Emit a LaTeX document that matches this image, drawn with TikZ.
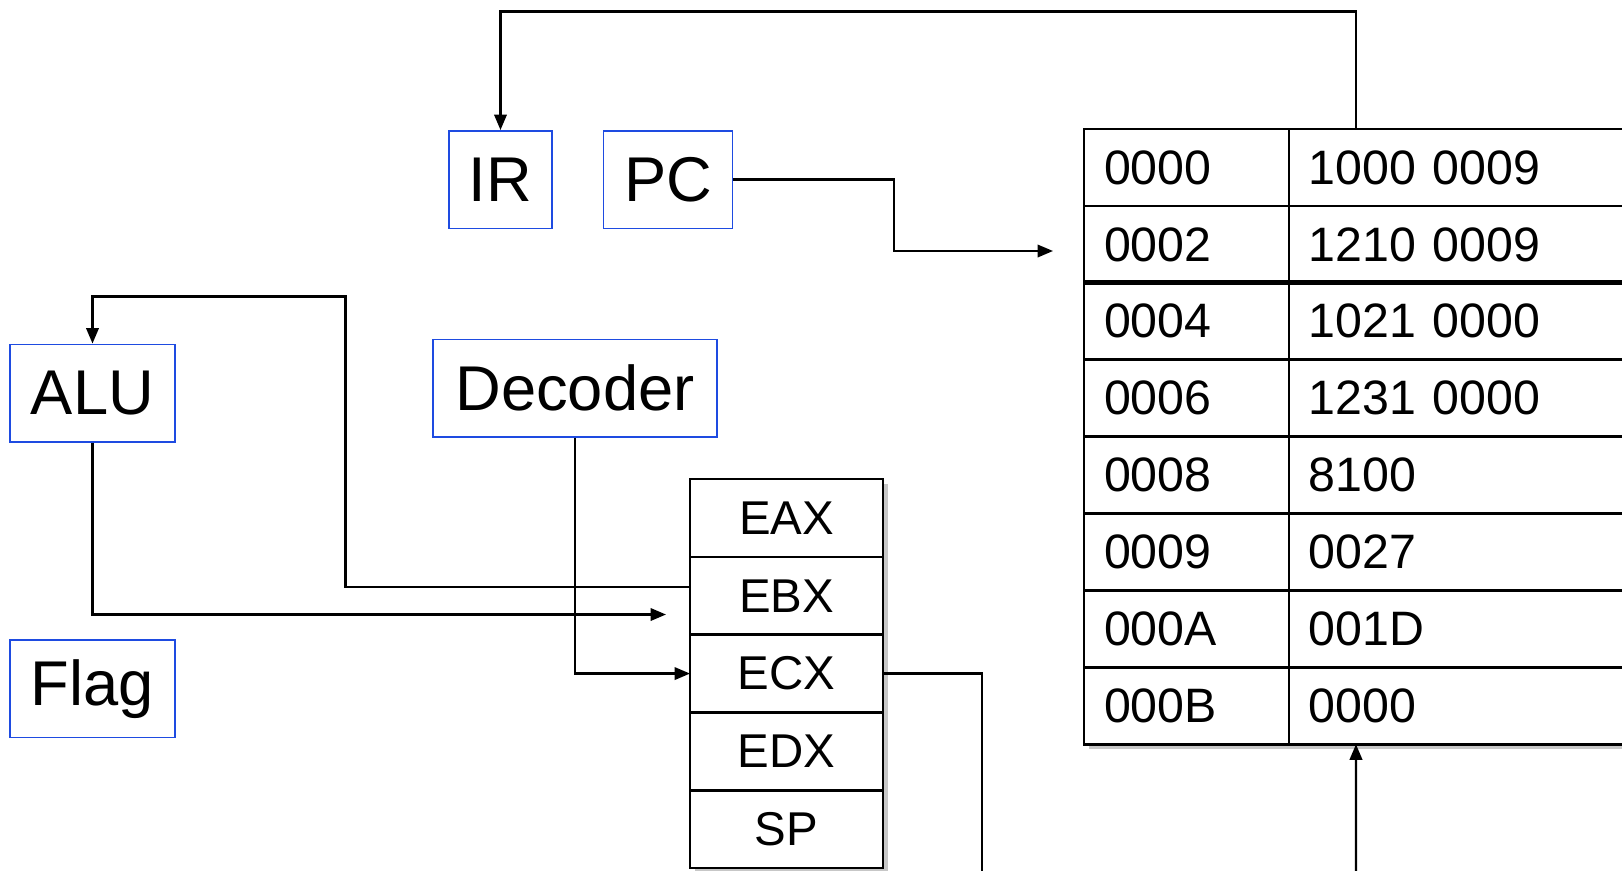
\documentclass[tikz,border=0pt]{standalone}
\usepackage{fontspec}
\setmainfont{Liberation Sans}
\usetikzlibrary{arrows.meta,calc,positioning,backgrounds}
\definecolor{boxblue}{RGB}{30,75,225}

\begin{document}
\begin{tikzpicture}[x=0.02cm,y=-0.02cm,
  arr/.style={-{Triangle[length=0.31cm,width=0.25cm]},line width=0.045cm},
  unit/.style={draw=boxblue,line width=0.03cm,font=\fontsize{36}{40}\selectfont,
               minimum height=1.95cm,inner sep=0pt},
  reg/.style={draw,line width=0.05cm,fill=white,outer sep=0pt,minimum width=3.86cm,
              minimum height=1.556cm,inner sep=0pt,font=\fontsize{27}{30}\selectfont},
  cell/.style={draw,line width=0.05cm,fill=white,outer sep=0pt,minimum height=1.54cm,
               inner xsep=0.4cm,inner ysep=0pt,align=left,text width=#1,
               font=\fontsize{27.5}{30}\selectfont}]
  \useasboundingbox (0,0) rectangle (1622,870);
  \clip (0,0) rectangle (1622,870);

  % CPU units
  \node[unit,minimum width=2.06cm] (ir) at (500.5,179.5) {IR};
  \node[unit,minimum width=2.58cm,right=1cm of ir] (pc) {PC};
  \node[unit,minimum width=3.3cm] (alu) at (92.5,393) {ALU};
  \node[unit,minimum width=3.3cm,below=3.94cm of alu] (flag) {Flag};
  \node[unit,minimum width=5.68cm] (dec) at (575,388) {Decoder};

  % registers
  \node[reg] (eax) at (786.5,518) {EAX};
  \node[reg,below=0pt of eax] (ebx) {EBX};
  \node[reg,below=0pt of ebx] (ecx) {ECX};
  \node[reg,below=0pt of ecx] (edx) {EDX};
  \node[reg,below=0pt of edx] (sp) {SP};

  % memory
  \foreach \ad/\va [count=\i from 0] in {0000/1000 0009,0002/1210 0009,0004/1021 0000,
      0006/1231 0000,0008/8100,0009/0027,000A/001D,000B/0000} {
    \node[cell=3.3cm] (a\i) at (1186.5,{167.5+76.9*\i}) {\ad};
    \node[cell=7.42cm,right=0pt of a\i] (v\i) {\va};
  }
  \draw[line width=0.1cm] (a1.south west) -- (v1.south east);

  \begin{scope}[on background layer]
    \fill[black!22] ($(eax.north west)+(5,5)$) rectangle ($(sp.south east)+(5,5)$);
    \fill[black!22] ($(a0.north west)+(5,5)$) rectangle ($(v7.south east)+(5,5)$);
  \end{scope}

  \coordinate (pcend) at (1053,251);
  \coordinate (aluend) at (666,614.5);
  \coordinate (memin) at (1356,880);

  \draw[arr] ($(v0.north west)+(67,0)$) -- ++(0,-117.6) -| (ir.north);
  \draw[arr] (pc.east) -- ++(161,0) |- (pcend);
  \draw[arr] ($(ebx.west)+(0,-9)$) -- ++(-344.5,0) |- ($(alu.north)+(0,-47)$) -- (alu.north);
  \draw[arr] (alu.south) |- (aluend);
  \draw[arr] (dec.south) |- (ecx.west);
  \draw[line width=0.045cm] (ecx.east) -- ++(99,0) -- ++(0,220);
  \draw[arr] (memin) -- ($(v7.south west)+(67,0)$);
\end{tikzpicture}
\end{document}
